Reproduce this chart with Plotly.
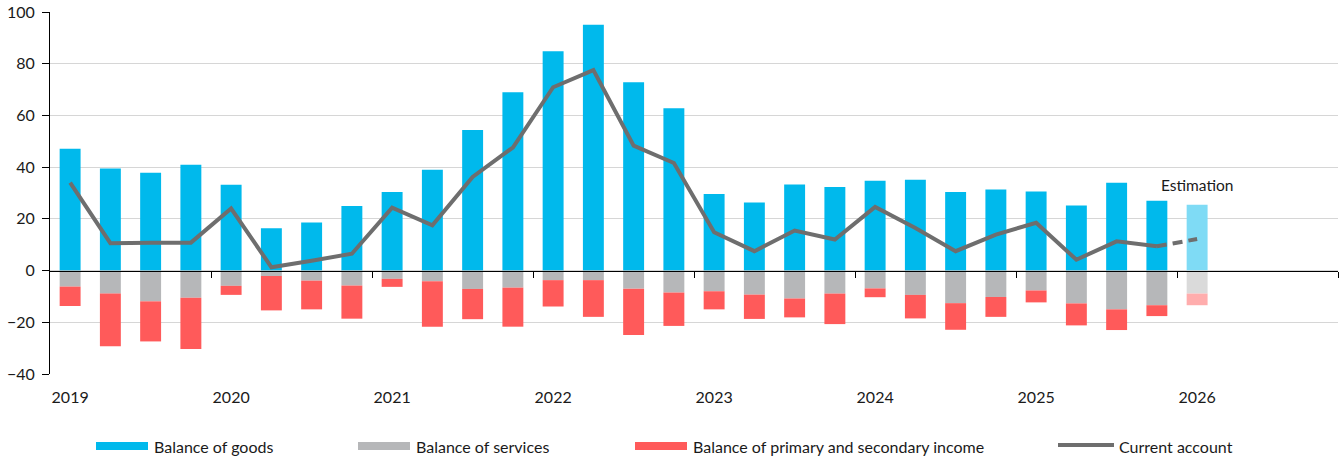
import plotly.graph_objects as go

# Quarterly current account components (bn EUR), 2019Q1 .. 2026Q1 (last quarter is an estimate)
quarters = [f"{y}Q{q}" for y in range(2019, 2026) for q in range(1, 5)] + ["2026Q1"]
goods = [47.1, 39.5, 37.8, 40.9, 33.2, 16.4, 18.6, 25.0, 30.4, 39.0, 54.4, 69.0,
         84.8, 95.1, 72.8, 62.8, 29.6, 26.3, 33.3, 32.3, 34.7, 35.1, 30.4, 31.4,
         30.6, 25.2, 34.0, 27.0, 25.5]
services = [-6.2, -8.9, -11.9, -10.5, -5.9, -2.1, -3.9, -5.8, -3.2, -4.1, -7.1, -6.6,
            -3.7, -3.7, -7.0, -8.5, -8.0, -9.3, -10.8, -8.9, -6.9, -9.4, -12.6, -10.2,
            -7.7, -12.7, -15.0, -13.4, -8.9]
income = [-7.5, -20.4, -15.5, -19.8, -3.5, -13.3, -11.1, -12.8, -3.1, -17.6, -11.7, -15.1,
          -10.2, -14.2, -17.9, -12.9, -7.0, -9.4, -7.3, -11.8, -3.4, -9.1, -10.3, -7.7,
          -4.6, -8.5, -8.0, -4.2, -4.5]
current = [34.0, 10.6, 10.8, 10.8, 24.0, 1.3, 3.8, 6.5, 24.3, 17.5, 36.2, 47.6,
           70.9, 77.5, 48.3, 41.6, 14.8, 7.5, 15.5, 12.0, 24.6, 16.5, 7.5, 13.9,
           18.5, 4.2, 11.3, 9.4, 12.2]
n_estimated = 1
years = [str(y) for y in range(2019, 2027)]
y_ticks = [-40, -20, 0, 20, 40, 60, 80, 100]

FONT = "Lato"
TEXT = "#1a1a1a"
C_GOODS, C_GOODS_E = "#00B9EC", "#7FDBF5"
C_SERV, C_SERV_E = "#B6B7B9", "#DADADA"
C_INC, C_INC_E = "#FF5A5A", "#FFADAD"
C_LINE = "#6E6E6E"

n = len(quarters)
x = list(range(n))
n_actual = n - n_estimated
n_slots = 32  # axis runs through 2026Q4


def shade(normal, est):
    return [normal] * n_actual + [est] * n_estimated


fig = go.Figure()
fig.add_trace(go.Bar(x=x, y=goods, name="Balance of goods",
                     marker=dict(color=shade(C_GOODS, C_GOODS_E), line_width=0)))
fig.add_trace(go.Bar(x=x, y=services, name="Balance of services",
                     marker=dict(color=shade(C_SERV, C_SERV_E), line_width=0)))
fig.add_trace(go.Bar(x=x, y=income, name="Balance of primary and secondary income",
                     marker=dict(color=shade(C_INC, C_INC_E), line_width=0)))
fig.add_trace(go.Scatter(x=x[:n_actual], y=current[:n_actual], mode="lines",
                         name="Current account", xaxis="x2",
                         line=dict(color=C_LINE, width=4)))
fig.add_trace(go.Scatter(x=x[n_actual - 1:], y=current[n_actual - 1:], mode="lines",
                         showlegend=False, xaxis="x2",
                         line=dict(color=C_LINE, width=4, dash="10px,6px")))

fig.add_annotation(x=x[-1], y=33, text="Estimation", showarrow=False,
                   xanchor="center", yanchor="middle", font=dict(size=15.5, color=TEXT))

# Legend drawn as wide swatches under the plot
W, H = 1341, 459
ML, MR, MT, MB = 50, 3, 12, 85
pw, ph = W - ML - MR, H - MT - MB


def px_x(px):
    return (px - ML) / pw


def px_y(py):
    return (H - MB - py) / ph


legend_items = [
    ("Balance of goods", C_GOODS, 96, "bar"),
    ("Balance of services", C_SERV, 358, "bar"),
    ("Balance of primary and secondary income", C_INC, 635, "bar"),
    ("Current account", C_LINE, 1058, "line"),
]
ly = 446
for label, color, lx, kind in legend_items:
    if kind == "bar":
        fig.add_shape(type="rect", xref="paper", yref="paper",
                      x0=px_x(lx), x1=px_x(lx + 52), y0=px_y(ly - 4), y1=px_y(ly + 4),
                      fillcolor=color, line_width=0)
        tx = lx + 56
    else:
        fig.add_shape(type="line", xref="paper", yref="paper",
                      x0=px_x(lx), x1=px_x(lx + 56), y0=px_y(ly - 1), y1=px_y(ly - 1),
                      line=dict(color=color, width=4))
        tx = lx + 59
    fig.add_annotation(xref="paper", yref="paper", x=px_x(tx), y=px_y(ly),
                       text=label, showarrow=False, xanchor="left", yanchor="middle",
                       font=dict(size=16, color=TEXT))

fig.update_layout(
    width=W, height=H,
    margin=dict(l=ML, r=MR, t=MT, b=MB, pad=0),
    barmode="relative", bargap=0.48,
    plot_bgcolor="white", paper_bgcolor="white",
    font=dict(family=FONT, size=16, color=TEXT),
    showlegend=False,
    xaxis=dict(range=[-0.5, n_slots - 0.5], tickvals=x[::4], ticktext=years,
               ticks="", showline=False, showgrid=False, zeroline=False,
               ticklabelstandoff=12, tickfont=dict(size=16, color=TEXT)),
    xaxis2=dict(overlaying="x", anchor="free",
                position=(0 - y_ticks[0]) / (y_ticks[-1] - y_ticks[0]),
                range=[-0.5, n_slots - 0.5],
                tickvals=[i + 3.5 for i in range(0, n_slots, 4)],
                ticks="outside", ticklen=6, tickcolor="black", tickwidth=1,
                showticklabels=False, showline=True, linecolor="black", linewidth=1,
                showgrid=False, zeroline=False),
    yaxis=dict(range=[y_ticks[0], y_ticks[-1]], tickvals=y_ticks,
               showgrid=True, gridcolor="#D6D6D6", gridwidth=1.3,
               zeroline=False, showline=True, linecolor="black", linewidth=1,
               ticks="outside", ticklen=7, tickcolor="black", tickwidth=1,
               ticklabelstandoff=4, tickfont=dict(size=16, color=TEXT)),
)

fig.write_html("out.html")
